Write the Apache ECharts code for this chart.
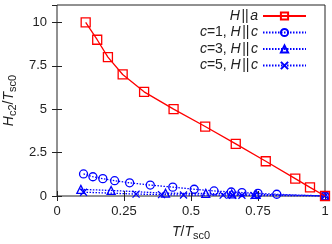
<!DOCTYPE html>
<html><head><meta charset="utf-8">
<script src="https://cdn.jsdelivr.net/npm/echarts@6/dist/echarts.min.js"></script>
<style>html,body{margin:0;padding:0;background:#fff}#c{width:332px;height:244px}</style>
</head><body><div id="c"></div>
<script>
const xTicks = [0, 0.25, 0.5, 0.75, 1];
const yTicks = [0, 2.5, 5, 7.5, 10];
const seriesNames = ['H||a', 'c=1, H||c', 'c=3, H||c', 'c=5, H||c'];
const xA = [0.107, 0.150, 0.190, 0.245, 0.325, 0.435, 0.553, 0.667, 0.779, 0.889, 0.944, 1.0];
const yA = [10, 9, 8, 7, 6, 5, 4, 3, 2, 1, 0.5, 0];
const xC1 = [0.099, 0.134, 0.171, 0.215, 0.271, 0.348, 0.432, 0.512, 0.586, 0.650, 0.690, 0.750, 0.820, 1.0];
const yC1 = [1.27, 1.11, 1.00, 0.88, 0.76, 0.63, 0.51, 0.39, 0.29, 0.23, 0.20, 0.15, 0.10, 0];
const xC3 = [0.089, 0.202, 0.405, 0.555, 0.652, 0.743, 1.0];
const yC3 = [0.38, 0.32, 0.16, 0.15, 0.12, 0.10, 0];
const xC5 = [0.099, 0.295, 0.390, 0.472, 0.620, 0.655, 0.690, 0.735, 1.0];
const yC5 = [0.22, 0.11, 0.08, 0.06, 0.05, 0.04, 0.04, 0.03, 0];

const zip = (xs, ys) => xs.map((x, i) => [x, ys[i]]);
const RED = '#ff0000', BLUE = '#0000ff';
const crossPath = 'path://M0,0L10,10M10,0L0,10';
const font = 'Liberation Sans, Arial, sans-serif';

function mk(name, data, color, symbol, size, dotted) {
  return {
    name, type: 'line', data, symbol, symbolSize: size,
    xAxisIndex: 0, yAxisIndex: 0,
    lineStyle: { color, width: 1.3, type: dotted ? [1.5, 1.5] : 'solid' },
    itemStyle: { color: 'rgba(255,255,255,0)', borderColor: color, borderWidth: 1.3 },
    emphasis: { disabled: true }, animation: false, z: dotted ? 2 : 3
  };
}

const legendRich = {
  i: { fontStyle: 'italic', fontSize: 14, fontFamily: font, color: '#222' },
  n: { fontStyle: 'normal', fontSize: 14, fontFamily: font, color: '#222' },
  p: { fontStyle: 'normal', fontSize: 14, fontFamily: font, color: '#222', padding: [0, 1.5, 0, 1.5] }
};
function legendFmt(name) {
  if (name === 'H||a') return '{i|H}{p|||}{i|a}';
  const m = name.match(/^c=(\d), H\|\|c$/);
  return '{i|c}{n|=' + m[1] + ', }{i|H}{p|||}{i|c}';
}

const subRich = {
  i: { fontStyle: 'italic', fontSize: 14, fontFamily: font, color: '#222' },
  n: { fontSize: 14, fontFamily: font, color: '#222' },
  s: { fontSize: 11, fontFamily: font, color: '#222', verticalAlign: 'bottom', padding: [6, 0, 0, 0] }
};

const chart = echarts.init(document.getElementById('c'), null, { renderer: 'canvas' });
chart.setOption({
  animation: false,
  grid: { left: 57, right: 7, top: 5, bottom: 48, show: true, borderColor: '#222', borderWidth: 1,
    outerBoundsMode: 'none', containLabel: false },
  legend: {
    data: seriesNames, orient: 'vertical', right: 25, top: 9, align: 'right',
    itemWidth: 43, itemHeight: 9, itemGap: 2.5, formatter: legendFmt,
    textStyle: { rich: legendRich, fontSize: 14 }, selectedMode: false,
    padding: 0
  },
  xAxis: [{
    type: 'value', min: 0, max: 1, interval: 0.25,
    name: '{i|T}{n|/}{i|T}{s|sc0}', nameLocation: 'middle', nameGap: 28,
    nameTextStyle: { rich: subRich },
    axisLine: { show: false }, splitLine: { show: false },
    axisTick: { inside: true, length: 5, lineStyle: { color: '#222' } },
    axisLabel: { margin: 9, fontSize: 13, fontFamily: font, color: '#222',
      formatter: v => xTicks.includes(v) ? String(v) : '' }
  }, {
    type: 'value', min: 0, max: 1, interval: 0.25, position: 'top',
    axisLine: { show: false }, splitLine: { show: false }, axisLabel: { show: false },
    axisTick: { inside: true, length: 5, lineStyle: { color: '#222' } }
  }],
  yAxis: [{
    type: 'value', min: 0, max: 11, interval: 2.5,
    name: '{i|H}{s|c2}{n|/}{i|T}{s|sc0}', nameLocation: 'middle', nameGap: 38,
    nameTextStyle: { rich: subRich },
    axisLine: { show: false }, splitLine: { show: false },
    axisTick: { inside: true, length: 5, lineStyle: { color: '#222' } },
    axisLabel: { margin: 10, fontSize: 13, fontFamily: font, color: '#222', showMaxLabel: false,
      formatter: v => yTicks.includes(v) ? String(v) : '' }
  }, {
    type: 'value', min: 0, max: 11, interval: 2.5, position: 'right',
    axisLine: { show: false }, splitLine: { show: false }, axisLabel: { show: false },
    axisTick: { inside: true, length: 5, lineStyle: { color: '#222' } }
  }],
  series: [
    mk(seriesNames[0], zip(xA, yA), RED, 'rect', 9, false),
    mk(seriesNames[1], zip(xC1, yC1), BLUE, 'circle', 8, true),
    mk(seriesNames[2], zip(xC3, yC3), BLUE, 'triangle', 8, true),
    mk(seriesNames[3], zip(xC5, yC5), BLUE, crossPath, 7, true)
  ]
});
</script></body></html>
